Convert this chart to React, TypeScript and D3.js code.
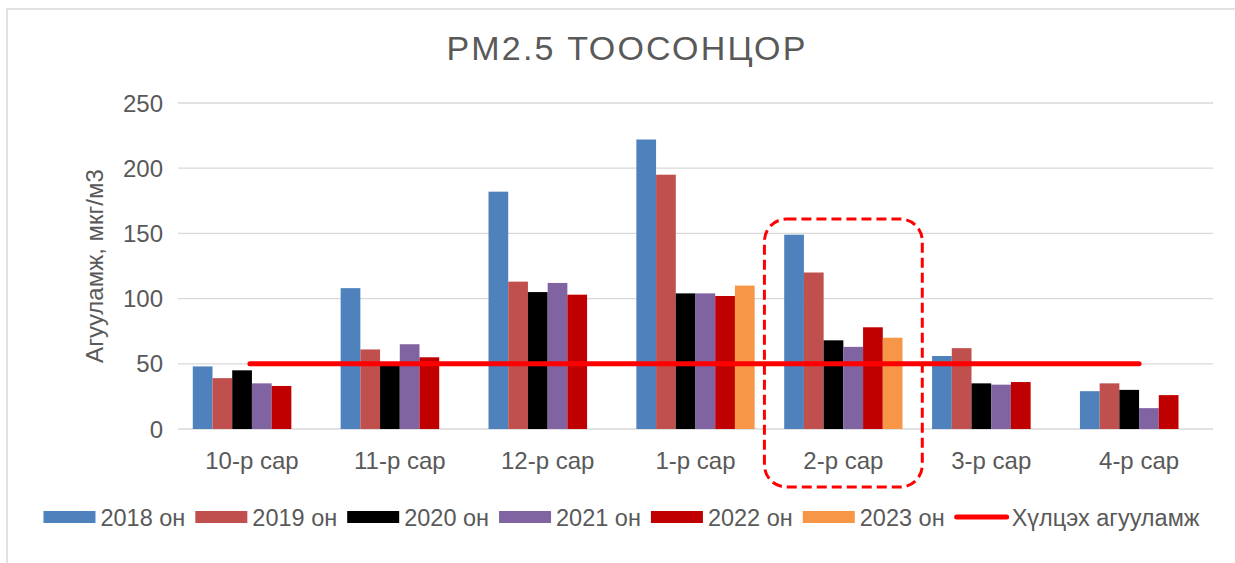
import React, { useEffect, useRef } from 'react';
import * as d3 from 'd3';

const categories = ['10-р сар', '11-р сар', '12-р сар', '1-р сар', '2-р сар', '3-р сар', '4-р сар'];
const seriesNames = ['2018 он', '2019 он', '2020 он', '2021 он', '2022 он', '2023 он'];
const seriesColors = ['#4F81BD', '#C0504D', '#000000', '#8064A2', '#C00000', '#F79646'];

const values2018 = [48, 108, 182, 222, 149, 56, 29];
const values2019 = [39, 61, 113, 195, 120, 62, 35];
const values2020 = [45, 49, 105, 104, 68, 35, 30];
const values2021 = [35, 65, 112, 104, 63, 34, 16];
const values2022 = [33, 55, 103, 102, 78, 36, 26];
const values2023: (number | null)[] = [null, null, null, 110, 70, null, null];

const limitName = 'Хүлцэх агууламж';
const limitValue = 50;
const yTicks = [0, 50, 100, 150, 200, 250];
const highlightCategory = '2-р сар';

const FONT = '"Liberation Sans", Arial, sans-serif';
const TEXT = '#595959';

const App = () => {
  const svgRef = useRef<SVGSVGElement | null>(null);

  useEffect(() => {
    if (!svgRef.current) return;
    const svg = d3.select(svgRef.current);
    svg.selectAll('*').remove();

    const width = 1235;
    const height = 563;
    const margin = { top: 103, right: 22, bottom: 134, left: 178 };

    // chart border
    svg.append('rect')
      .attr('x', 7).attr('y', 9)
      .attr('width', width + 20).attr('height', height + 20)
      .attr('fill', '#fff')
      .attr('stroke', '#d9d9d9')
      .attr('stroke-width', 1.5);

    const x0 = d3.scaleBand<string>()
      .domain(categories)
      .range([margin.left, width - margin.right]);

    const x1 = d3.scaleBand<string>()
      .domain(seriesNames)
      .range([0, x0.bandwidth()])
      .paddingInner(0)
      .paddingOuter(0.75);

    const y = d3.scaleLinear()
      .domain([0, 250])
      .range([height - margin.bottom, margin.top]);

    // gridlines
    yTicks.forEach(t => {
      svg.append('line')
        .attr('x1', margin.left).attr('x2', width - margin.right)
        .attr('y1', y(t)).attr('y2', y(t))
        .attr('stroke', '#d9d9d9').attr('stroke-width', 1.3);
      svg.append('text')
        .attr('x', 163).attr('y', y(t) + 8.5)
        .attr('text-anchor', 'end')
        .attr('font-family', FONT).attr('font-size', '24px')
        .attr('fill', TEXT)
        .text(t);
    });

    // bars
    const allSeries = [values2018, values2019, values2020, values2021, values2022, values2023];
    allSeries.forEach((vals, si) => {
      vals.forEach((v, ci) => {
        if (v == null) return;
        svg.append('rect')
          .attr('x', (x0(categories[ci]) as number) + (x1(seriesNames[si]) as number))
          .attr('y', y(v))
          .attr('width', x1.bandwidth())
          .attr('height', y(0) - y(v))
          .attr('fill', seriesColors[si]);
      });
    });

    // category labels
    categories.forEach(c => {
      svg.append('text')
        .attr('x', (x0(c) as number) + x0.bandwidth() / 2)
        .attr('y', 469)
        .attr('text-anchor', 'middle')
        .attr('font-family', FONT).attr('font-size', '24px')
        .attr('fill', TEXT)
        .text(c);
    });

    // limit line
    const first = categories[0];
    const last = categories[categories.length - 1];
    svg.append('line')
      .attr('x1', (x0(first) as number) + x0.bandwidth() / 2 - 2)
      .attr('x2', (x0(last) as number) + x0.bandwidth() / 2)
      .attr('y1', y(limitValue)).attr('y2', y(limitValue))
      .attr('stroke', '#FF0000')
      .attr('stroke-width', 5)
      .attr('stroke-linecap', 'round');

    // highlight box
    const hx = x0(highlightCategory) as number;
    svg.append('rect')
      .attr('x', hx - 5)
      .attr('y', y(161))
      .attr('width', x0.bandwidth() + 10)
      .attr('height', 487 - y(161))
      .attr('rx', 22).attr('ry', 22)
      .attr('fill', 'none')
      .attr('stroke', '#FF0000')
      .attr('stroke-width', 3)
      .attr('stroke-dasharray', '10,5');

    // title
    svg.append('text')
      .attr('x', 627).attr('y', 60)
      .attr('text-anchor', 'middle')
      .attr('font-family', FONT).attr('font-size', '34px')
      .attr('letter-spacing', '2.2px')
      .attr('fill', TEXT)
      .text('PM2.5 ТООСОНЦОР');

    // y axis title
    svg.append('text')
      .attr('transform', `translate(103, ${(y(0) + y(250)) / 2}) rotate(-90)`)
      .attr('text-anchor', 'middle')
      .attr('font-family', FONT).attr('font-size', '24px')
      .attr('fill', TEXT)
      .text('Агууламж, мкг/м3');

    // legend
    const legend = svg.append('g');
    const items = [
      ...seriesNames.map((n, i) => ({ name: n, color: seriesColors[i], line: false })),
      { name: limitName, color: '#FF0000', line: true },
    ];
    let lx = 0;
    items.forEach(it => {
      const g = legend.append('g').attr('transform', `translate(${lx},0)`);
      if (it.line) {
        g.append('line')
          .attr('x1', 2).attr('x2', 52)
          .attr('y1', 0).attr('y2', 0)
          .attr('stroke', it.color).attr('stroke-width', 5)
          .attr('stroke-linecap', 'round');
      } else {
        g.append('rect')
          .attr('x', 0).attr('y', -6)
          .attr('width', 52).attr('height', 12)
          .attr('fill', it.color);
      }
      const t = g.append('text')
        .attr('x', 57).attr('y', 8.5)
        .attr('font-family', FONT).attr('font-size', '23.5px')
        .attr('fill', TEXT)
        .text(it.name);
      const tw = (t.node() as SVGTextElement).getComputedTextLength();
      lx += 57 + tw + 10;
    });
    const totalW = lx - 10;
    legend.attr('transform', `translate(${621.5 - totalW / 2}, 517)`);
  }, []);

  return (
    <svg
      ref={svgRef}
      width={1235}
      height={563}
      style={{ position: 'absolute', left: 0, top: 0, background: '#fff' }}
    />
  );
};

export default App;
